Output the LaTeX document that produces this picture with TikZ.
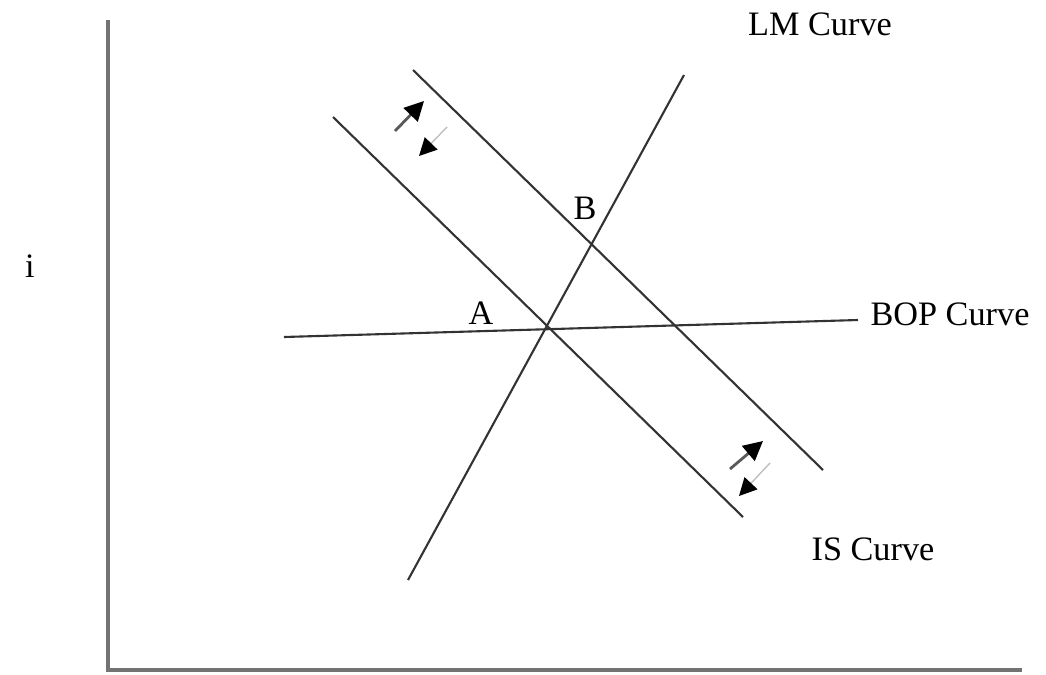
\documentclass[tikz,border=0pt]{standalone}
\usepackage{fontspec}
\setmainfont{Liberation Serif}
\usetikzlibrary{arrows.meta}
\begin{document}
\begin{tikzpicture}[x=0.02cm,y=-0.02cm,
  axis/.style={draw=black!55,line width=1.8pt},
  curve/.style={draw=black!80,line width=1.2pt},
  lbl/.style={font=\fontsize{19.5}{23}\selectfont,inner sep=0pt},
  uparr/.style={draw=black!65,line width=1.6pt,-{Triangle[length=11pt,width=11pt,color=black,fill=black]}},
  dnarr/.style={draw=black!25,line width=0.8pt,-{Triangle[length=10pt,width=10pt,color=black,fill=black]}}]
\useasboundingbox (0,0) rectangle (1046,674);
% axes
\coordinate (ytop) at (108,20);
\coordinate (orig) at (108,670);
\coordinate (xend) at (1022,670);
\draw[axis] (ytop) -- (orig) -- (xend);
% curves
\coordinate (u1) at (413,70);  \coordinate (u2) at (823,470);
\coordinate (l1) at (333,117); \coordinate (l2) at (743,517);
\coordinate (m1) at (408,580); \coordinate (m2) at (684,75);
\coordinate (b1) at (284,337); \coordinate (b2) at (858,320);
\draw[curve] (u1) -- (u2);
\draw[curve] (l1) -- (l2);
\draw[curve] (m1) -- (m2);
\draw[curve] (b1) -- (b2);
% labels
\node[lbl] (lm) at (820,24) {LM Curve};
\node[lbl] (bop) at (950,314) {BOP Curve};
\node[lbl] (is) at (873,549) {IS Curve};
\node[lbl] (i) at (30,266) {i};
\node[lbl] (A) at (481,313) {A};
\node[lbl] (B) at (585,208) {B};
% shift arrows
\coordinate (ua1) at (395,131); \coordinate (ua2) at (424,101);
\coordinate (da1) at (447,127); \coordinate (da2) at (419,156);
\coordinate (ub1) at (730,469); \coordinate (ub2) at (763,441);
\coordinate (db1) at (770,463); \coordinate (db2) at (739,496);
\draw[uparr] (ua1) -- (ua2);
\draw[dnarr] (da1) -- (da2);
\draw[uparr] (ub1) -- (ub2);
\draw[dnarr] (db1) -- (db2);
\end{tikzpicture}
\end{document}
